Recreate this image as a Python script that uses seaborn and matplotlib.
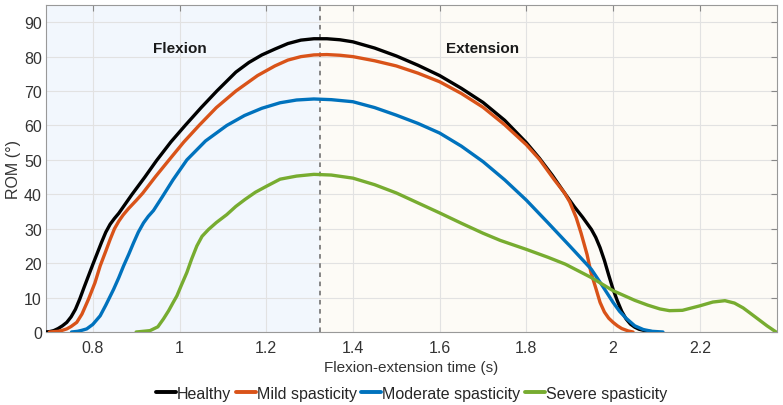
import pandas as pd
import matplotlib
matplotlib.use("Agg")
import matplotlib.pyplot as plt
import seaborn as sns

# values (time in s, ROM in degrees)
healthy_t = [0.69, 0.70, 0.71, 0.72, 0.73, 0.74, 0.75, 0.76, 0.77, 0.78, 0.79, 0.80, 0.81, 0.82,
             0.83, 0.84, 0.85, 0.86, 0.875, 0.89, 0.92, 0.947, 0.98, 1.013, 1.05, 1.086, 1.13,
             1.16, 1.19, 1.22, 1.25, 1.28, 1.31, 1.34, 1.37, 1.40, 1.45, 1.50, 1.55, 1.60, 1.65,
             1.70, 1.75, 1.80, 1.83, 1.86, 1.888, 1.91, 1.93, 1.95, 1.96, 1.97, 1.98, 1.99,
             2.00, 2.01, 2.02, 2.03, 2.04, 2.05, 2.06, 2.08, 2.10]
healthy_rom = [0, 0.1, 0.4, 1.0, 1.8, 2.8, 4.4, 6.6, 9.6, 13.0, 16.3, 19.6, 22.8, 26.0,
               29.0, 31.3, 33.0, 34.5, 37.2, 39.9, 45.0, 49.8, 55.2, 60.0, 65.2, 70.0, 75.5,
               78.3, 80.5, 82.2, 83.8, 84.8, 85.2, 85.2, 84.9, 84.3, 82.5, 80.2, 77.5, 74.5, 70.8,
               66.7, 61.5, 55.0, 50.5, 45.5, 40.4, 36.5, 33.3, 29.8, 27.5, 24.5, 20.8, 16.5,
               12.4, 9.0, 6.0, 3.8, 2.3, 1.4, 0.8, 0.2, 0]

mild_t = [0.70, 0.72, 0.73, 0.74, 0.75, 0.763, 0.775, 0.79, 0.805, 0.817, 0.83, 0.84, 0.85,
          0.86, 0.87, 0.882, 0.90, 0.915, 0.945, 0.976, 1.01, 1.045, 1.085, 1.13, 1.18, 1.22,
          1.25, 1.28, 1.31, 1.34, 1.37, 1.40, 1.45, 1.50, 1.55, 1.60, 1.65, 1.70, 1.75, 1.80,
          1.83, 1.864, 1.888, 1.90, 1.915, 1.926, 1.94, 1.949, 1.96, 1.97, 1.98, 1.99, 2.00,
          2.01, 2.02, 2.035, 2.046]
mild_rom = [0, 0.2, 0.5, 0.9, 1.6, 2.8, 5.2, 9.5, 14.3, 19.2, 23.5, 26.9, 30.0,
            32.2, 34.0, 35.8, 38.2, 40.3, 45.2, 50.0, 55.2, 60.0, 65.2, 70.0, 74.5, 77.3,
            79.0, 80.0, 80.5, 80.6, 80.4, 80.0, 78.8, 77.3, 75.2, 72.7, 69.3, 65.3, 60.2, 54.4,
            50.2, 44.3, 40.4, 37.8, 33.2, 28.8, 22.5, 17.3, 12.8, 8.6, 5.8, 4.0, 2.8,
            1.8, 1.0, 0.3, 0]

moderate_t = [0.751, 0.765, 0.775, 0.786, 0.80, 0.817, 0.83, 0.848, 0.86, 0.871, 0.883, 0.894,
              0.905, 0.917, 0.928, 0.94, 0.96, 0.985, 1.017, 1.06, 1.109, 1.15, 1.19, 1.232,
              1.27, 1.31, 1.35, 1.40, 1.45, 1.50, 1.55, 1.60, 1.65, 1.70, 1.75, 1.80,
              1.85, 1.90, 1.925, 1.95, 1.975, 2.00, 2.015, 2.03, 2.05, 2.07, 2.09, 2.115]
moderate_rom = [0, 0.2, 0.5, 0.9, 2.2, 4.7, 7.8, 12.4, 15.8, 19.2, 22.6, 25.9,
                29.0, 31.7, 33.6, 35.3, 39.2, 44.2, 50.0, 55.5, 60.0, 62.9, 65.0, 66.6,
                67.4, 67.7, 67.5, 66.9, 65.2, 63.0, 60.6, 57.8, 54.0, 49.5, 44.2, 38.3,
                31.7, 25.0, 21.6, 18.2, 13.5, 8.6, 6.0, 4.0, 1.8, 0.7, 0.2, 0]

severe_t = [0.90, 0.932, 0.95, 0.963, 0.975, 0.985, 0.994, 1.005, 1.017, 1.028, 1.04, 1.052,
            1.067, 1.085, 1.109, 1.13, 1.151, 1.175, 1.20, 1.232, 1.27, 1.31, 1.35, 1.40,
            1.45, 1.50, 1.55, 1.60, 1.65, 1.70, 1.74, 1.80, 1.85, 1.89, 1.95, 2.00, 2.05,
            2.08, 2.108, 2.13, 2.16, 2.20, 2.23, 2.258, 2.28, 2.30, 2.316, 2.335, 2.355, 2.376]
severe_rom = [0, 0.4, 1.5, 3.8, 6.2, 8.5, 10.5, 13.8, 17.3, 21.2, 25.0, 27.8,
              29.8, 31.8, 34.1, 36.5, 38.5, 40.6, 42.3, 44.4, 45.3, 45.8, 45.6, 44.7,
              42.8, 40.4, 37.5, 34.6, 31.6, 28.7, 26.6, 24.0, 21.7, 19.7, 15.8, 12.0, 9.2,
              7.8, 6.7, 6.2, 6.3, 7.6, 8.7, 9.1, 8.4, 7.0, 5.5, 3.7, 1.8, 0]

groups = ["Healthy", "Mild spasticity", "Moderate spasticity", "Severe spasticity"]
colors = ["#000000", "#D95319", "#0072BD", "#77AC30"]
x_ticks = [0.8, 1, 1.2, 1.4, 1.6, 1.8, 2, 2.2]
x_tick_labels = ["0.8", "1", "1.2", "1.4", "1.6", "1.8", "2", "2.2"]
y_ticks = [0, 10, 20, 30, 40, 50, 60, 70, 80, 90]
split_t = 1.323

series = [(healthy_t, healthy_rom), (mild_t, mild_rom),
          (moderate_t, moderate_rom), (severe_t, severe_rom)]
df = pd.concat([pd.DataFrame({"t": t, "rom": r, "group": g})
                for (t, r), g in zip(series, groups)], ignore_index=True)

sns.set_style("whitegrid")
plt.rcParams['font.family'] = ['Liberation Sans', 'DejaVu Sans']

fig = plt.figure(figsize=(7.83, 4.06), dpi=100)
ax = fig.add_axes([0.0587, 0.1798, 0.9336, 0.8054])

xmin, xmax = 0.692, 2.378
ax.axvspan(xmin, split_t, color="#F2F7FD", zorder=0)
ax.axvspan(split_t, xmax, color="#FDFBF6", zorder=0)

sns.lineplot(data=df, x="t", y="rom", hue="group", hue_order=groups,
             palette=colors, linewidth=2.4, sort=False, estimator=None,
             ax=ax, legend=True, zorder=3)
for ln in ax.get_lines():
    ln.set_solid_joinstyle("round")
    ln.set_solid_capstyle("round")
ax.axvline(split_t, color="#666666", linestyle=(0, (3, 3)), linewidth=1.1, zorder=2)

ax.text(1.0, 82.4, "Flexion", ha="center", va="center", fontsize=11, fontweight="bold", color="#1a1a1a")
ax.text(1.7, 82.4, "Extension", ha="center", va="center", fontsize=11, fontweight="bold", color="#1a1a1a")

ax.set_xlim(xmin, xmax)
ax.set_ylim(0, 95)
ax.set_xticks(x_ticks)
ax.set_xticklabels(x_tick_labels)
ax.set_yticks(y_ticks)
ax.grid(True, color="#E2E2E2", linewidth=0.8)
ax.set_axisbelow(True)
ax.tick_params(axis="both", direction="in", length=4, color="#888888",
               labelsize=11.5, labelcolor="#333333", top=True, right=True,
               labeltop=False, labelright=False)
ax.tick_params(axis="x", pad=6)
ax.tick_params(axis="y", pad=3)
for s in ax.spines.values():
    s.set_color("#999999")
    s.set_linewidth(0.8)
ax.set_xlabel("Flexion-extension time (s)", fontsize=11, color="#333333", labelpad=3)
ax.set_ylabel("ROM (°)", fontsize=11.5, color="#333333", labelpad=2)

handles, labels = ax.get_legend_handles_labels()
ax.get_legend().remove()
fig.legend(handles, labels, loc="lower center", bbox_to_anchor=(0.5255, -0.025), ncol=4,
           frameon=False, fontsize=11.5, handlelength=1.25, handletextpad=0.05,
           columnspacing=0.3)
for h in fig.legends[0].get_lines():
    h.set_linewidth(2.8)

fig.savefig("out.png", dpi=100)
